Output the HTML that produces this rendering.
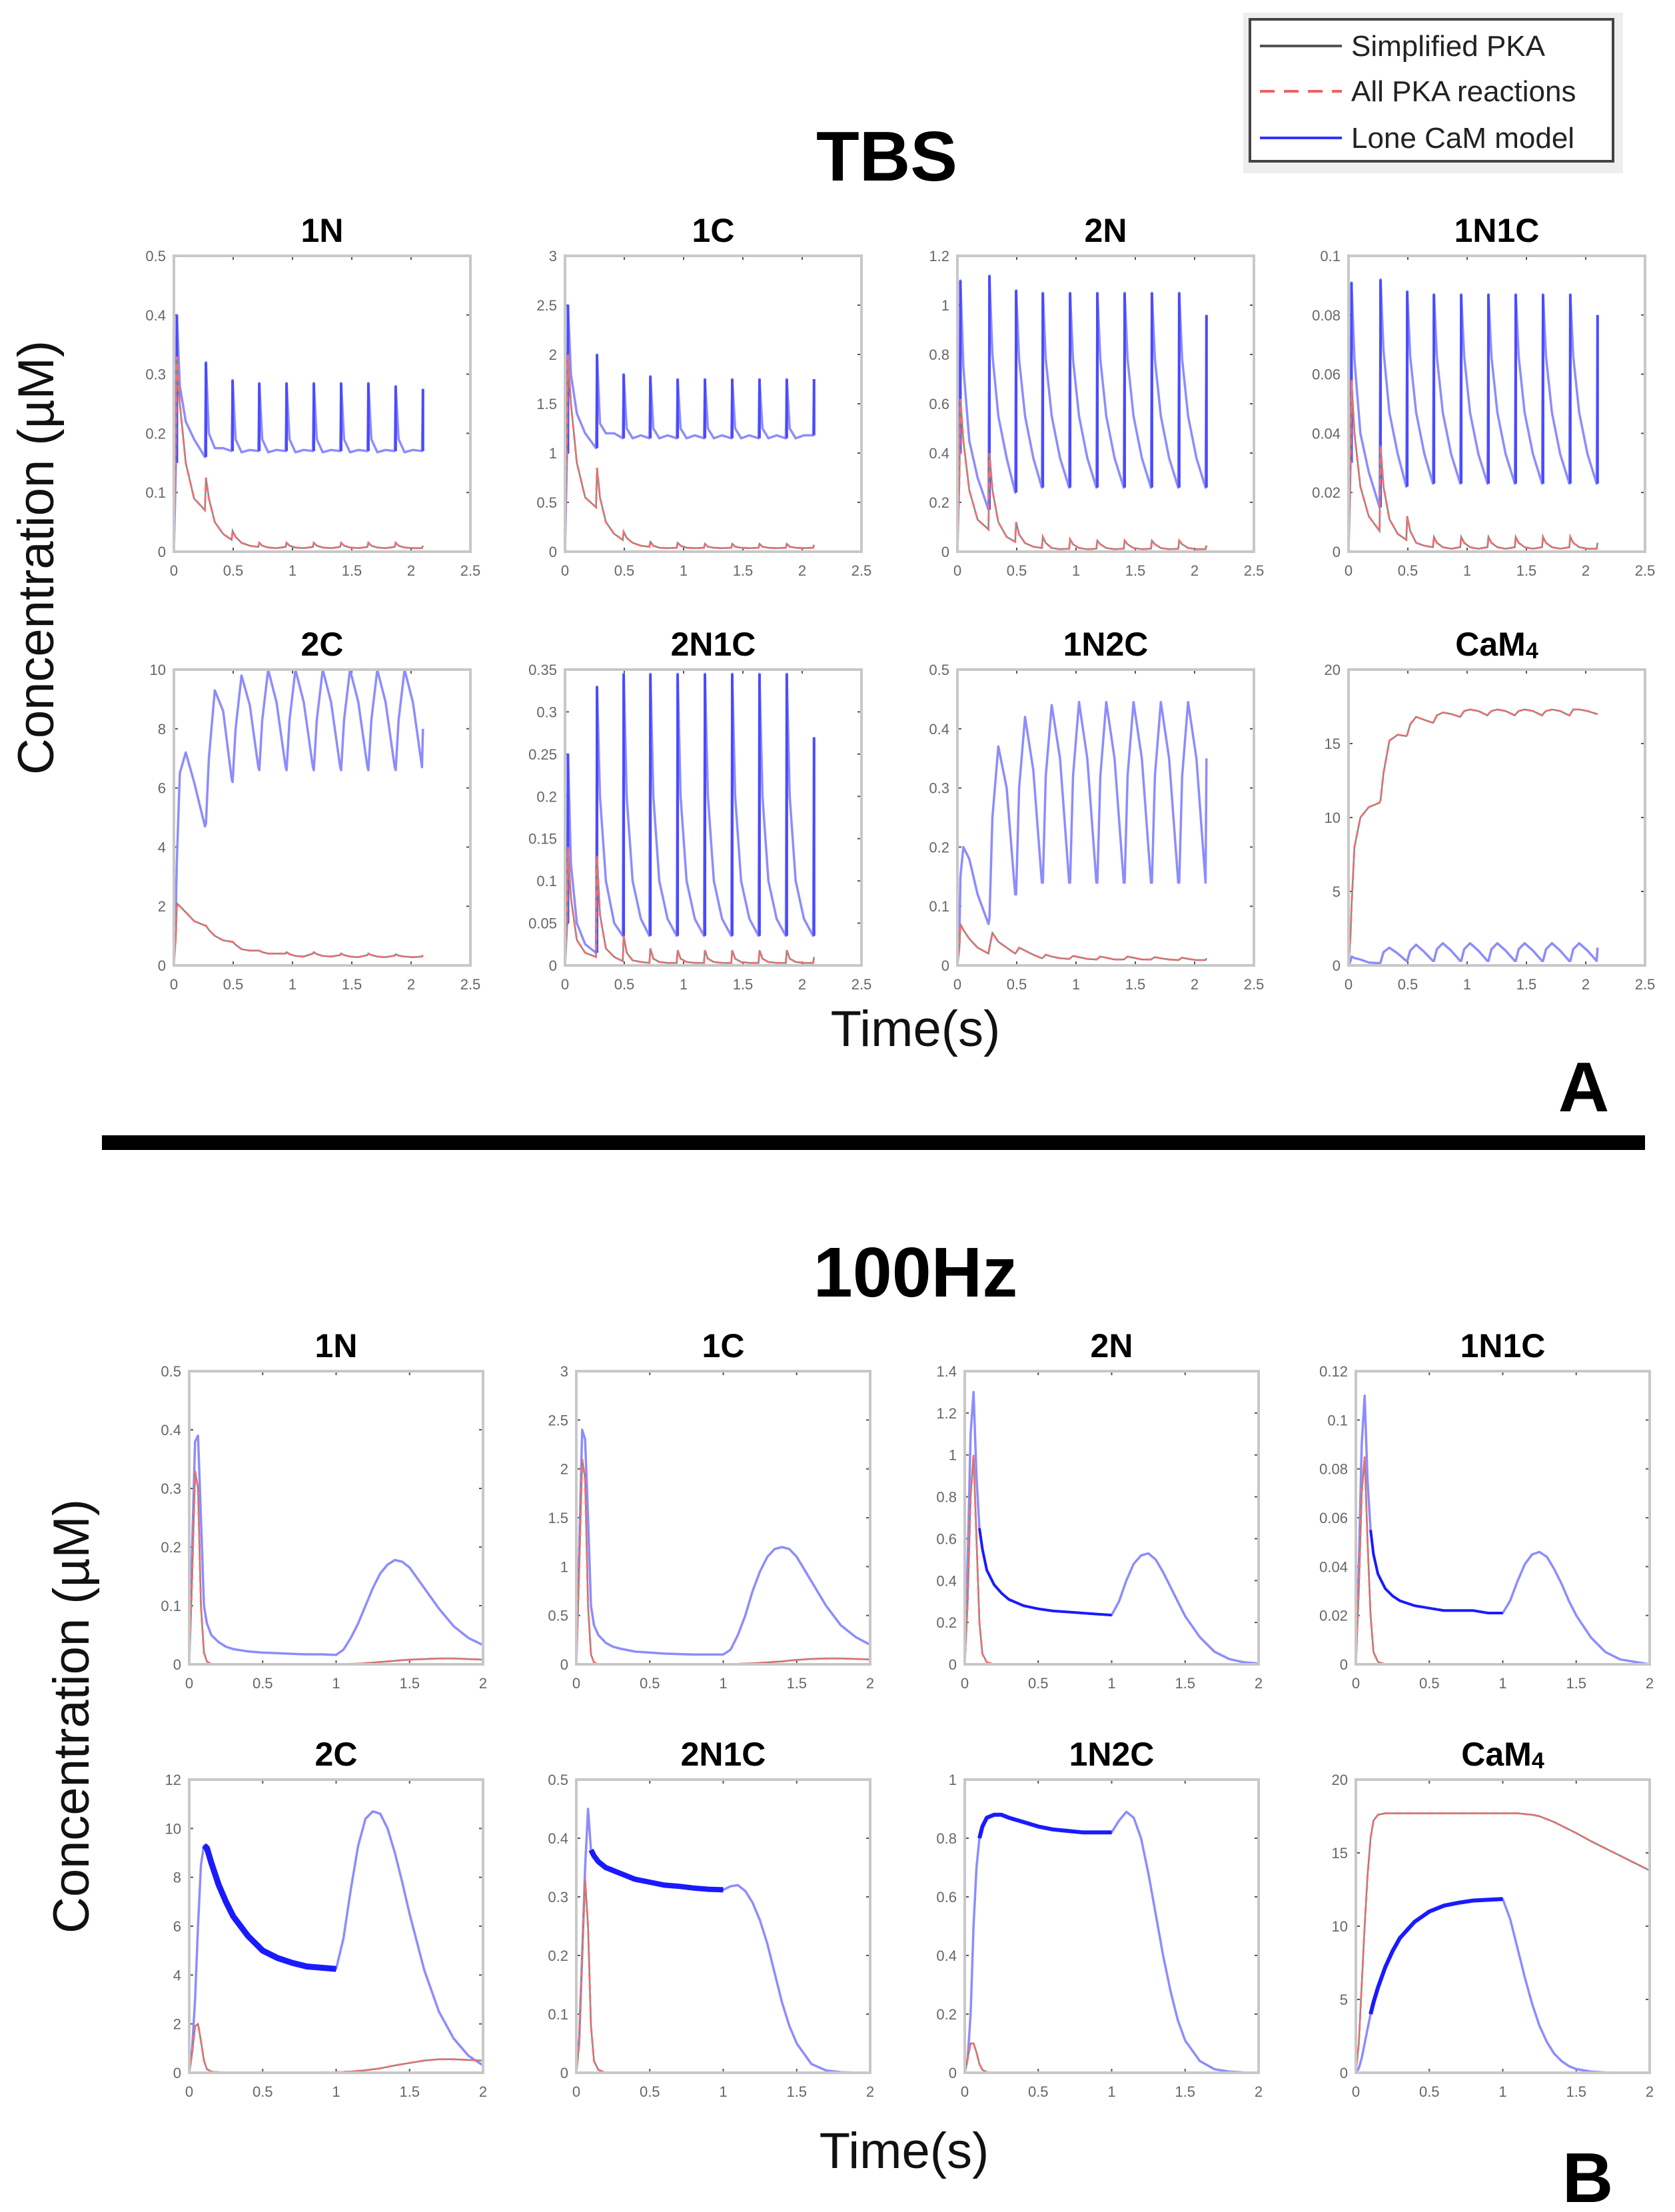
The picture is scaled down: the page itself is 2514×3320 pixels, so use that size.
<!DOCTYPE html>
<html><head><meta charset="utf-8">
<style>
html,body{margin:0;padding:0;background:#fff;}
svg{display:block;}
text{font-family:"Liberation Sans",sans-serif;}
</style></head>
<body>
<svg id="fig" width="2514" height="3320" viewBox="0 0 2514 3320" xmlns="http://www.w3.org/2000/svg">
<rect x="0" y="0" width="2514" height="3320" fill="#fff"/>
<g>
<rect x="1866" y="19" width="570" height="241" fill="#eeeeee"/>
<rect x="1876" y="29" width="545" height="213" fill="#fff" stroke="#444" stroke-width="4"/>
<line x1="1891" y1="69" x2="2014" y2="69" stroke="#555" stroke-width="4"/>
<text x="2028" y="84" font-size="44" fill="#222">Simplified PKA</text>
<line x1="1891" y1="137" x2="2014" y2="137" stroke="#f06060" stroke-width="4" stroke-dasharray="22,14"/>
<text x="2028" y="152" font-size="44" fill="#222">All PKA reactions</text>
<line x1="1891" y1="207" x2="2014" y2="207" stroke="#3333ff" stroke-width="4"/>
<text x="2028" y="222" font-size="44" fill="#222">Lone CaM model</text>
</g>
<text x="1331" y="271" font-size="106" font-weight="bold" text-anchor="middle">TBS</text>
<text x="1374" y="1946" font-size="106" font-weight="bold" text-anchor="middle">100Hz</text>
<text transform="translate(80,837) rotate(-90)" font-size="76" text-anchor="middle" fill="#111">Concentration (µM)</text>
<text transform="translate(133,2576) rotate(-90)" font-size="76" text-anchor="middle" fill="#111">Concentration (µM)</text>
<text x="1374" y="1570" font-size="76" text-anchor="middle" fill="#111">Time(s)</text>
<text x="1357" y="3254" font-size="76" text-anchor="middle" fill="#111">Time(s)</text>
<rect x="153" y="1704" width="2316" height="22" fill="#000"/>
<text x="2377" y="1668" font-size="106" font-weight="bold" text-anchor="middle">A</text>
<text x="2383" y="3305" font-size="106" font-weight="bold" text-anchor="middle">B</text>
<g id="panels"></g>
</svg>
<script>
// ---- TBS shared time samples (s) ----
const tbsT = [0,0.017,0.025,0.05,0.1,0.17, 0.262,0.27,0.295,0.345,0.415, 0.487,0.495,0.52,0.57,0.64, 0.712,0.72,0.745,0.795,0.865, 0.942,0.95,0.975,1.025,1.095, 1.172,1.18,1.205,1.255,1.325, 1.402,1.41,1.435,1.485,1.555, 1.632,1.64,1.665,1.715,1.785, 1.862,1.87,1.895,1.945,2.015, 2.092,2.1];
const tbsXTicks = ["0","0.5","1","1.5","2","2.5"];
// TBS series values
const tbs1N_blue = [0,0.15,0.40,0.28,0.22,0.19, 0.16,0.32,0.20,0.175,0.175, 0.17,0.29,0.19,0.168,0.172, 0.17,0.285,0.19,0.168,0.172, 0.17,0.285,0.19,0.168,0.172, 0.17,0.285,0.19,0.168,0.172, 0.17,0.285,0.19,0.168,0.172, 0.17,0.285,0.19,0.168,0.172, 0.17,0.28,0.19,0.168,0.172, 0.17,0.275];
const tbs1N_red = [0,0.2,0.33,0.25,0.15,0.09, 0.07,0.125,0.09,0.05,0.03, 0.02,0.035,0.025,0.015,0.01, 0.008,0.015,0.01,0.007,0.006, 0.008,0.015,0.01,0.007,0.006, 0.008,0.015,0.01,0.007,0.006, 0.008,0.015,0.01,0.007,0.006, 0.008,0.015,0.01,0.007,0.006, 0.008,0.015,0.01,0.007,0.006, 0.006,0.01];
const tbs1C_blue = [0,1.0,2.5,1.8,1.4,1.2, 1.05,2.0,1.3,1.2,1.2, 1.15,1.8,1.25,1.15,1.18, 1.15,1.78,1.25,1.15,1.18, 1.15,1.75,1.25,1.15,1.18, 1.15,1.75,1.25,1.15,1.18, 1.15,1.75,1.25,1.15,1.18, 1.15,1.75,1.25,1.15,1.18, 1.15,1.75,1.25,1.15,1.18, 1.18,1.75];
const tbs1C_red = [0,1.2,2.0,1.5,0.9,0.55, 0.45,0.85,0.55,0.3,0.18, 0.12,0.2,0.14,0.09,0.06, 0.05,0.1,0.06,0.04,0.035, 0.04,0.09,0.06,0.04,0.035, 0.04,0.08,0.05,0.04,0.035, 0.04,0.08,0.05,0.04,0.035, 0.04,0.08,0.05,0.04,0.035, 0.04,0.08,0.05,0.04,0.035, 0.04,0.07];
const tbs2N_blue = [0,0.4,1.1,0.75,0.45,0.3, 0.17,1.12,0.8,0.55,0.38, 0.24,1.06,0.78,0.55,0.38, 0.26,1.05,0.78,0.55,0.38, 0.26,1.05,0.78,0.55,0.38, 0.26,1.05,0.78,0.55,0.38, 0.26,1.05,0.78,0.55,0.38, 0.26,1.05,0.78,0.55,0.38, 0.26,1.05,0.78,0.55,0.38, 0.26,0.96];
const tbs2N_red = [0,0.3,0.62,0.45,0.25,0.13, 0.09,0.4,0.25,0.12,0.06, 0.04,0.12,0.07,0.035,0.02, 0.015,0.06,0.035,0.015,0.01, 0.012,0.05,0.03,0.015,0.01, 0.012,0.045,0.03,0.015,0.01, 0.012,0.045,0.03,0.015,0.01, 0.012,0.045,0.03,0.015,0.01, 0.012,0.045,0.03,0.015,0.01, 0.01,0.025];
const tbs1N1C_blue = [0,0.03,0.091,0.065,0.04,0.027, 0.015,0.092,0.068,0.047,0.033, 0.022,0.088,0.066,0.047,0.033, 0.023,0.087,0.066,0.047,0.033, 0.023,0.087,0.066,0.047,0.033, 0.023,0.087,0.066,0.047,0.033, 0.023,0.087,0.066,0.047,0.033, 0.023,0.087,0.066,0.047,0.033, 0.023,0.087,0.066,0.047,0.033, 0.023,0.08];
const tbs1N1C_red = [0,0.03,0.058,0.04,0.022,0.012, 0.007,0.036,0.022,0.011,0.006, 0.004,0.012,0.007,0.003,0.002, 0.0015,0.005,0.003,0.0015,0.001, 0.0015,0.005,0.003,0.0015,0.001, 0.0015,0.005,0.003,0.0015,0.001, 0.0015,0.005,0.003,0.0015,0.001, 0.0015,0.005,0.003,0.0015,0.001, 0.0015,0.005,0.003,0.0015,0.001, 0.001,0.003];
const tbs2C_blue = [0,2,3.5,6.5,7.2,6.2, 4.7,4.8,7.0,9.3,8.6, 6.3,6.2,8.0,9.8,8.8, 6.7,6.6,8.3,10,8.9, 6.7,6.6,8.3,10,8.9, 6.7,6.6,8.3,10,8.9, 6.7,6.6,8.3,10,8.9, 6.7,6.6,8.3,10,8.9, 6.7,6.6,8.3,10,8.9, 6.7,8.0];
const tbs2C_red = [0,1.0,2.1,2.0,1.8,1.5, 1.35,1.35,1.2,1.0,0.85, 0.8,0.8,0.7,0.55,0.5, 0.5,0.5,0.45,0.4,0.4, 0.4,0.45,0.38,0.32,0.3, 0.4,0.45,0.38,0.32,0.3, 0.35,0.4,0.35,0.3,0.28, 0.35,0.4,0.35,0.3,0.28, 0.33,0.38,0.33,0.3,0.28, 0.3,0.35];
const tbs2N1C_blue = [0,0.05,0.25,0.12,0.05,0.025, 0.015,0.33,0.2,0.1,0.05, 0.035,0.345,0.2,0.1,0.055, 0.035,0.345,0.2,0.1,0.055, 0.035,0.345,0.2,0.1,0.055, 0.035,0.345,0.2,0.1,0.055, 0.035,0.345,0.2,0.1,0.055, 0.035,0.345,0.2,0.1,0.055, 0.035,0.345,0.2,0.1,0.055, 0.035,0.27];
const tbs2N1C_red = [0,0.05,0.14,0.08,0.03,0.015, 0.01,0.13,0.06,0.02,0.01, 0.005,0.035,0.015,0.006,0.004, 0.003,0.02,0.008,0.004,0.003, 0.003,0.018,0.008,0.004,0.003, 0.003,0.018,0.008,0.004,0.003, 0.003,0.018,0.008,0.004,0.003, 0.003,0.018,0.008,0.004,0.003, 0.003,0.018,0.008,0.004,0.003, 0.003,0.01];
const tbs1N2C_blue = [0,0.05,0.15,0.2,0.18,0.12, 0.07,0.08,0.25,0.37,0.3, 0.12,0.12,0.3,0.42,0.33, 0.14,0.14,0.32,0.44,0.35, 0.14,0.14,0.32,0.445,0.35, 0.14,0.14,0.32,0.445,0.35, 0.14,0.14,0.32,0.445,0.35, 0.14,0.14,0.32,0.445,0.35, 0.14,0.14,0.32,0.445,0.35, 0.14,0.35];
const tbs1N2C_red = [0,0.03,0.07,0.06,0.045,0.03, 0.02,0.03,0.055,0.04,0.03, 0.02,0.022,0.03,0.025,0.018, 0.012,0.013,0.018,0.015,0.012, 0.011,0.012,0.016,0.014,0.011, 0.01,0.011,0.015,0.013,0.01, 0.01,0.011,0.015,0.013,0.01, 0.01,0.011,0.014,0.012,0.01, 0.009,0.01,0.013,0.011,0.009, 0.009,0.012];
const tbsCaM4_blue = [0,0.3,0.6,0.5,0.4,0.2, 0.15,0.2,0.9,1.2,0.8, 0.3,0.3,1.0,1.4,0.9, 0.3,0.3,1.1,1.5,1.0, 0.3,0.3,1.1,1.5,1.0, 0.3,0.3,1.1,1.5,1.0, 0.3,0.3,1.1,1.5,1.0, 0.3,0.3,1.1,1.5,1.0, 0.3,0.3,1.1,1.5,1.0, 0.3,1.2];
const tbsCaM4_red = [0,2,4,8,10,10.7, 11,11.2,13,15.2,15.6, 15.5,15.6,16.3,16.8,16.6, 16.4,16.5,16.9,17.1,17.0, 16.8,16.9,17.2,17.3,17.2, 16.9,17.0,17.2,17.3,17.2, 16.9,17.0,17.2,17.3,17.2, 16.9,17.0,17.2,17.3,17.2, 16.9,17.0,17.3,17.3,17.2, 17.0,17.0];
// ---- 100Hz shared time samples ----
const hzT = [0,0.02,0.04,0.06,0.08,0.1,0.12,0.15,0.2,0.25,0.3,0.4,0.5,0.6,0.7,0.8,0.9,1.0,1.05,1.1,1.15,1.2,1.25,1.3,1.35,1.4,1.45,1.5,1.6,1.7,1.8,1.9,2.0];
const hzXTicks = ["0","0.5","1","1.5","2"];
const hz1N_blue = [0,0.2,0.38,0.39,0.25,0.1,0.07,0.05,0.038,0.03,0.026,0.022,0.02,0.019,0.018,0.017,0.017,0.016,0.025,0.045,0.07,0.1,0.13,0.155,0.17,0.178,0.175,0.165,0.13,0.095,0.065,0.045,0.033];
const hz1N_red = [0,0.15,0.33,0.3,0.1,0.02,0.005,0,0,0,0,0,0,0,0,0,0,0,0,0.001,0.001,0.002,0.003,0.004,0.005,0.006,0.007,0.008,0.009,0.01,0.01,0.009,0.008];
const hz1C_blue = [0,1.2,2.4,2.3,1.5,0.6,0.4,0.3,0.22,0.18,0.16,0.13,0.12,0.11,0.105,0.1,0.1,0.1,0.15,0.3,0.5,0.75,0.95,1.1,1.18,1.2,1.18,1.1,0.85,0.6,0.4,0.28,0.2];
const hz1C_red = [0,1.0,2.1,1.9,0.6,0.1,0.02,0,0,0,0,0,0,0,0,0,0,0,0,0.005,0.008,0.01,0.015,0.02,0.025,0.03,0.038,0.045,0.055,0.06,0.06,0.055,0.05];
const hz2N_blue = [0,0.5,1.1,1.3,0.9,0.65,0.55,0.45,0.38,0.34,0.31,0.28,0.265,0.255,0.25,0.245,0.24,0.235,0.3,0.4,0.48,0.52,0.53,0.5,0.44,0.37,0.3,0.23,0.13,0.06,0.025,0.01,0.004];
const hz2N_red = [0,0.3,0.8,1.0,0.6,0.2,0.05,0.01,0,0,0,0,0,0,0,0,0,0,0,0,0,0,0,0,0,0,0,0,0,0,0,0,0];
const hz1N1C_blue = [0,0.04,0.09,0.11,0.075,0.055,0.045,0.037,0.031,0.028,0.026,0.024,0.023,0.022,0.022,0.022,0.021,0.021,0.026,0.034,0.041,0.045,0.046,0.044,0.039,0.033,0.026,0.02,0.011,0.005,0.002,0.001,0];
const hz1N1C_red = [0,0.03,0.07,0.085,0.05,0.02,0.005,0.001,0,0,0,0,0,0,0,0,0,0,0,0,0,0,0,0,0,0,0,0,0,0,0,0,0];
const hz2C_blue = [0,1,3,6,8.5,9.3,9.2,8.6,7.7,7,6.4,5.6,5,4.7,4.5,4.35,4.3,4.25,5.5,7.5,9.3,10.4,10.7,10.6,10,9,7.8,6.5,4.2,2.5,1.4,0.7,0.3];
const hz2C_red = [0,0.8,1.9,2.0,1.3,0.5,0.15,0.05,0.02,0.01,0.01,0.01,0.01,0.01,0.01,0.01,0.015,0.02,0.035,0.05,0.075,0.1,0.14,0.18,0.24,0.3,0.35,0.4,0.5,0.55,0.55,0.52,0.5];
const hz2N1C_blue = [0,0.06,0.2,0.35,0.45,0.38,0.37,0.36,0.35,0.345,0.34,0.33,0.325,0.32,0.318,0.315,0.313,0.312,0.318,0.32,0.31,0.29,0.26,0.22,0.17,0.12,0.08,0.05,0.015,0.004,0.001,0,0];
const hz2N1C_red = [0,0.05,0.2,0.33,0.25,0.08,0.02,0.005,0,0,0,0,0,0,0,0,0,0,0,0,0,0,0,0,0,0,0,0,0,0,0,0,0];
const hz1N2C_blue = [0,0.05,0.2,0.5,0.7,0.8,0.84,0.87,0.88,0.88,0.87,0.855,0.84,0.83,0.825,0.82,0.82,0.82,0.86,0.89,0.87,0.8,0.68,0.54,0.4,0.28,0.18,0.11,0.04,0.012,0.004,0.001,0];
const hz1N2C_red = [0,0.05,0.1,0.1,0.07,0.03,0.01,0.002,0,0,0,0,0,0,0,0,0,0,0,0,0,0,0,0,0,0,0,0,0,0,0,0,0];
const hzCaM4_blue = [0,0.3,1,2,3,4,4.8,5.8,7.2,8.3,9.2,10.3,11,11.4,11.6,11.75,11.8,11.85,10.5,8.5,6.5,4.7,3.2,2.1,1.3,0.8,0.45,0.25,0.08,0.02,0.005,0,0];
const hzCaM4_red = [0,2,6,10,13.5,16,17.2,17.6,17.7,17.7,17.7,17.7,17.7,17.7,17.7,17.7,17.7,17.7,17.7,17.7,17.65,17.6,17.5,17.3,17.1,16.85,16.6,16.35,15.8,15.3,14.8,14.3,13.8];
// y tick labels
const yt_tbs1N = ["0","0.1","0.2","0.3","0.4","0.5"];
const yt_tbs1C = ["0","0.5","1","1.5","2","2.5","3"];
const yt_tbs2N = ["0","0.2","0.4","0.6","0.8","1","1.2"];
const yt_tbs1N1C = ["0","0.02","0.04","0.06","0.08","0.1"];
const yt_tbs2C = ["0","2","4","6","8","10"];
const yt_tbs2N1C = ["0","0.05","0.1","0.15","0.2","0.25","0.3","0.35"];
const yt_tbs1N2C = ["0","0.1","0.2","0.3","0.4","0.5"];
const yt_tbsCaM4 = ["0","5","10","15","20"];
const yt_hz1N = ["0","0.1","0.2","0.3","0.4","0.5"];
const yt_hz1C = ["0","0.5","1","1.5","2","2.5","3"];
const yt_hz2N = ["0","0.2","0.4","0.6","0.8","1","1.2","1.4"];
const yt_hz1N1C = ["0","0.02","0.04","0.06","0.08","0.1","0.12"];
const yt_hz2C = ["0","2","4","6","8","10","12"];
const yt_hz2N1C = ["0","0.1","0.2","0.3","0.4","0.5"];
const yt_hz1N2C = ["0","0.2","0.4","0.6","0.8","1"];
const yt_hzCaM4 = ["0","5","10","15","20"];

const NS = "http://www.w3.org/2000/svg";
const root = document.getElementById('panels');
function mk(tag, attrs, parent){ const e=document.createElementNS(NS,tag); for(const k in attrs) e.setAttribute(k,attrs[k]); parent.appendChild(e); return e; }

const tbsCols=[261,848,1437,2024], tbsRows=[384,1005], tbsW=445, tbsH=444;
const hzCols=[284,865,1448,2035], hzRows=[2058,2671], hzW=441, hzH=440;

const panels = [
 {id:'tbs-1n',title:'1N',c:0,r:0,sec:'tbs',yt:yt_tbs1N,b:tbs1N_blue,rd:tbs1N_red,band:0,spk:true},
 {id:'tbs-1c',title:'1C',c:1,r:0,sec:'tbs',yt:yt_tbs1C,b:tbs1C_blue,rd:tbs1C_red,band:0,spk:true},
 {id:'tbs-2n',title:'2N',c:2,r:0,sec:'tbs',yt:yt_tbs2N,b:tbs2N_blue,rd:tbs2N_red,band:0,spk:true},
 {id:'tbs-1n1c',title:'1N1C',c:3,r:0,sec:'tbs',yt:yt_tbs1N1C,b:tbs1N1C_blue,rd:tbs1N1C_red,band:0,spk:true},
 {id:'tbs-2c',title:'2C',c:0,r:1,sec:'tbs',yt:yt_tbs2C,b:tbs2C_blue,rd:tbs2C_red,band:0,spk:false},
 {id:'tbs-2n1c',title:'2N1C',c:1,r:1,sec:'tbs',yt:yt_tbs2N1C,b:tbs2N1C_blue,rd:tbs2N1C_red,band:0,spk:true},
 {id:'tbs-1n2c',title:'1N2C',c:2,r:1,sec:'tbs',yt:yt_tbs1N2C,b:tbs1N2C_blue,rd:tbs1N2C_red,band:0,spk:false},
 {id:'tbs-cam4',title:'CaM4',c:3,r:1,sec:'tbs',yt:yt_tbsCaM4,b:tbsCaM4_blue,rd:tbsCaM4_red,band:0,spk:false},
 {id:'hz-1n',title:'1N',c:0,r:0,sec:'hz',yt:yt_hz1N,b:hz1N_blue,rd:hz1N_red,band:0},
 {id:'hz-1c',title:'1C',c:1,r:0,sec:'hz',yt:yt_hz1C,b:hz1C_blue,rd:hz1C_red,band:0},
 {id:'hz-2n',title:'2N',c:2,r:0,sec:'hz',yt:yt_hz2N,b:hz2N_blue,rd:hz2N_red,band:4},
 {id:'hz-1n1c',title:'1N1C',c:3,r:0,sec:'hz',yt:yt_hz1N1C,b:hz1N1C_blue,rd:hz1N1C_red,band:4},
 {id:'hz-2c',title:'2C',c:0,r:1,sec:'hz',yt:yt_hz2C,b:hz2C_blue,rd:hz2C_red,band:9},
 {id:'hz-2n1c',title:'2N1C',c:1,r:1,sec:'hz',yt:yt_hz2N1C,b:hz2N1C_blue,rd:hz2N1C_red,band:8},
 {id:'hz-1n2c',title:'1N2C',c:2,r:1,sec:'hz',yt:yt_hz1N2C,b:hz1N2C_blue,rd:hz1N2C_red,band:6},
 {id:'hz-cam4',title:'CaM4',c:3,r:1,sec:'hz',yt:yt_hzCaM4,b:hzCaM4_blue,rd:hzCaM4_red,band:6}
];

panels.forEach(p=>{
  const isT = p.sec==='tbs';
  const x0 = isT?tbsCols[p.c]:hzCols[p.c], y0 = isT?tbsRows[p.r]:hzRows[p.r];
  const W = isT?tbsW:hzW, H = isT?tbsH:hzH;
  const T = isT?tbsT:hzT, xt = isT?tbsXTicks:hzXTicks;
  const xMax = parseFloat(xt[xt.length-1]), yMax = parseFloat(p.yt[p.yt.length-1]);
  const sx = v=> x0 + v/xMax*W, sy = v=> y0 + H - v/yMax*H;
  const g = mk('g',{},root);
  
  
  const tt = mk('text',{x:x0+W/2,y:y0-21,'font-size':50,'font-weight':'bold','text-anchor':'middle',fill:'#000'},g);
  
  
  if(p.title==='CaM4'){ tt.textContent='CaM'; const s=mk('tspan',{'font-size':34,dy:4},tt); s.textContent='4'; }
  else tt.textContent=p.title;
  xt.forEach(l=>{
    const v=parseFloat(l), X=sx(v);
    const tk=mk('line',{x1:X,y1:y0+H,x2:X,y2:y0+H-6,stroke:'#555','stroke-width':2},g);
    
    
    mk('line',{x1:X,y1:y0,x2:X,y2:y0+6,stroke:'#555','stroke-width':2},g);
    const t=mk('text',{x:X,y:y0+H+36,'font-size':22,'text-anchor':'middle',fill:'#666'},g);
    
    
    t.textContent=l;
  });
  p.yt.forEach(l=>{
    const v=parseFloat(l), Y=sy(v);
    const tk=mk('line',{x1:x0,y1:Y,x2:x0+6,y2:Y,stroke:'#555','stroke-width':2},g);
    
    
    mk('line',{x1:x0+W,y1:Y,x2:x0+W-6,y2:Y,stroke:'#555','stroke-width':2},g);
    const t=mk('text',{x:x0-12,y:Y+8,'font-size':22,'text-anchor':'end',fill:'#666'},g);
    
    
    t.textContent=l;
  });
  const pts = arr => arr.map((v,i)=> sx(T[i]).toFixed(1)+','+sy(v).toFixed(1)).join(' ');
  const bl = mk('polyline',{points:pts(p.b),fill:'none',stroke:'#8c8cff','stroke-width':3.5,'stroke-linejoin':'round'},g);
  
  
  if(isT && p.spk){
    for(let i=1;i<T.length;i++){
      if(T[i]-T[i-1] < 0.01){
        const s=mk('line',{x1:sx(T[i]),y1:sy(p.b[i-1]),x2:sx(T[i]),y2:sy(p.b[i]),stroke:'#4a4aff','stroke-width':4},g);
        
        
      }
    }
  }
  if(p.band>0){
    const idx=T.findIndex(t=>t>=1.0);
    const sub=p.b.slice(5,idx+1).map((v,i)=> sx(T[i+5]).toFixed(1)+','+sy(v).toFixed(1)).join(' ');
    const bd=mk('polyline',{points:sub,fill:'none',stroke:'#1a1aff','stroke-width':p.band,'stroke-linejoin':'round'},g);
    
    
  }
  const bk = mk('polyline',{points:pts(p.rd),fill:'none',stroke:'#888','stroke-width':2.5},g);
  
  
  const rl = mk('polyline',{points:pts(p.rd),fill:'none',stroke:'#f07070','stroke-width':3,'stroke-dasharray':'10,6'},g);
  
  
  const fr = mk('rect',{x:x0,y:y0,width:W,height:H,fill:'none',stroke:'#c8c8c8','stroke-width':4},g);
  
  
});
</script>
</body></html>
